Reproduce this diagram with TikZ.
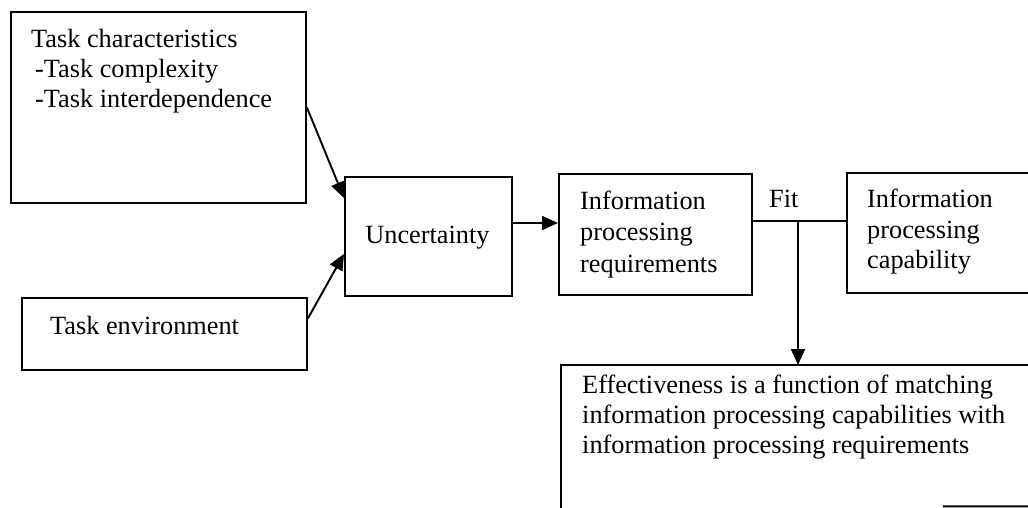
\documentclass[tikz,border=0pt]{standalone}
\usepackage{fontspec}
\setmainfont{Liberation Serif}
\usetikzlibrary{arrows.meta,calc}
\begin{document}
\begin{tikzpicture}[x=1pt,y=-1pt,
  every node/.style={font=\fontsize{26.3}{30}\selectfont},
  box/.style={draw,line width=1.9pt,rectangle,inner sep=0pt,anchor=north west},
  hidden/.style={rectangle,inner sep=0pt,anchor=north west},
  txt/.style={inner sep=0pt,anchor=base west,align=left},
  line/.style={line width=1.9pt},
  arr/.style={line width=1.9pt,-{Triangle[length=16pt,width=14pt]}}]
\useasboundingbox (0,0) rectangle (1028,507);

% boxes
\node[box,minimum width=295pt,minimum height=191pt] (tc) at (10,11) {};
\node[box,minimum width=285pt,minimum height=72pt] (te) at (21,297) {};
\node[box,minimum width=167pt,minimum height=119pt] (unc) at (344,176) {};
\node[box,minimum width=193pt,minimum height=121pt] (ipr) at (558,173) {};
\node[box,minimum width=200pt,minimum height=120pt] (ipc) at (846,172) {};
\node[hidden,minimum width=480pt,minimum height=141pt] (eff) at (561,365) {};
\draw[line] (eff.north east) -- (eff.north west) -- ($(eff.south west)+(0,4)$);
\draw[line] (eff.south east) -- ($(eff.south west)!0.795!(eff.south east)$);

% texts (anchored at the baseline of the last line)
\node[txt] (tctxt) at (31,107) {Task characteristics\\\hspace*{4pt}-Task complexity\\\hspace*{4pt}-Task interdependence};
\node[txt] (tetxt) at (50,334) {Task environment};
\node[anchor=base,inner sep=0pt] (unctxt) at (427.5,243) {Uncertainty};
\node[txt] (iprtxt) at (580,272) {Information\\[1.5pt]processing\\[1.5pt]requirements};
\node[txt] (ipctxt) at (867,268) {Information\\[1pt]processing\\[0pt]capability};
\node[txt] (efftxt) at (582,453) {Effectiveness is a function of matching\\information processing capabilities with\\information processing requirements};
\node[txt] (fit) at (769,207) {Fit};

% connectors
\coordinate (tcout) at ($(tc.north east)!0.5!(tc.south east)$);
\coordinate (teout) at ($(te.north east)!0.29!(te.south east)$);
\coordinate (uncin1) at ($(unc.north west)+(0,22)$);
\coordinate (uncin2) at ($(unc.south west)+(0,-43)$);
\coordinate (uncout) at ($(unc.north east)+(0,47)$);
\coordinate (iprout) at ($(ipr.north east)+(0,48)$);
\coordinate (fitjoin) at (798,221);

\draw[arr] (tcout) -- (uncin1);
\draw[arr] (teout) -- (uncin2);
\draw[arr] (uncout) -- (uncout -| ipr.west);
\draw[line] (iprout) -- (iprout -| ipc.west);
\draw[arr] (fitjoin) -- (fitjoin |- eff.north);
\end{tikzpicture}
\end{document}
